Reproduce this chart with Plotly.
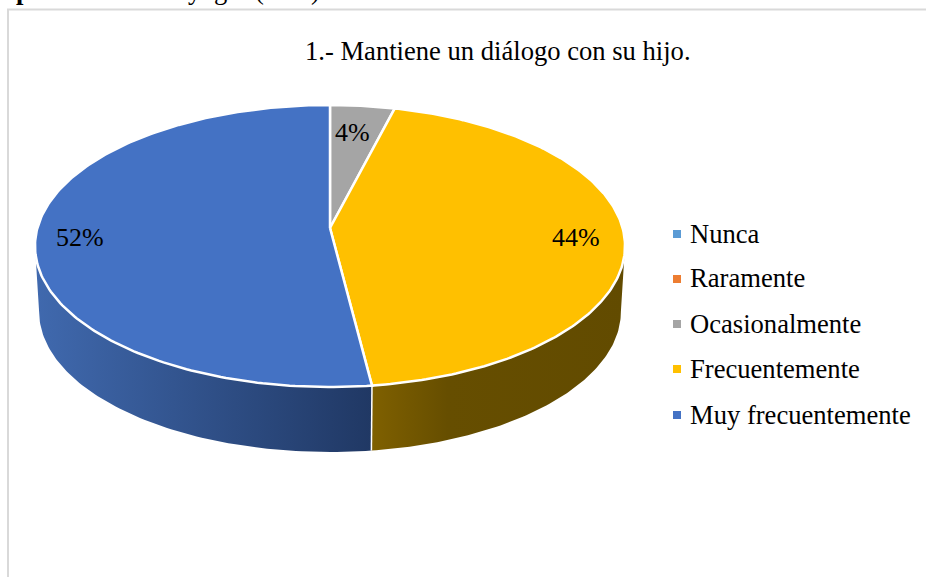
import numpy as np
import plotly.graph_objects as go

categories = ["Nunca", "Raramente", "Ocasionalmente", "Frecuentemente", "Muy frecuentemente"]
values = [0, 0, 4, 44, 52]
value_labels = ["4%", "44%", "52%"]
colors = ["#5B9BD5", "#ED7D31", "#A5A5A5", "#FFC000", "#4472C4"]
title_text = "1.- Mantiene un diálogo con su hijo."
cut_off_text = ["p", "y", "g", "(", ")"]

W, H = 926, 577
SERIF = "Liberation Serif"
BIG = 26.6

# perspective of the pie, the wedge tip is not the middle of the ellipse
CX, CY = 330, 228
A, B, K = 292.6, 138.7, 0.1277
CY_LOW, A_LOW, B_LOW = 293.8, 288.5, 138


def rim(deg, cy=CY, a=A, b=B):
    t = np.radians(deg)
    w = 1 + K * np.cos(t)
    return CX + a * np.sin(t) / w, cy - b * np.cos(t) / w


def low_rim(deg):
    return rim(deg, CY_LOW, A_LOW, B_LOW)


def label(text, x, y, size=BIG, bold=False):
    # paper coords so text cut by the page edge is not dropped
    return dict(text=f"<b>{text}</b>" if bold else text, x=x / W, y=1 - y / H, xref="paper", yref="paper",
                showarrow=False, xanchor="center", yanchor="middle",
                font=dict(family=SERIF, size=size, color="#000000"))


fig = go.Figure()

shares = np.array(values) / sum(values) * 360
ends = np.cumsum(shares)
starts = ends - shares

# side walls, only the front part can be seen
side_deg = np.degrees(np.arccos(-K))
wall_ranges = {3: (side_deg, starts[4]), 4: (starts[4], 360 - side_deg)}
wall_scales = {
    3: [[0, "#7F6000"], [0.3, "#664E00"], [1, "#624B00"]],
    4: [[0, "#203864"], [1, "#4069AE"]],
}
wall_grad = {3: (372, 625), 4: (372, 36)}
for i, (a0, a1) in wall_ranges.items():
    deg = np.linspace(a0, a1, 90)
    xt, yt = rim(deg)
    xb, yb = low_rim(deg)
    fig.add_trace(go.Scatter(x=np.r_[xt, xb[::-1]], y=np.r_[yt, yb[::-1]], mode="lines", fill="toself",
                             line=dict(width=0), hoverinfo="skip", showlegend=False,
                             fillgradient=dict(type="horizontal", colorscale=wall_scales[i],
                                               start=wall_grad[i][0], stop=wall_grad[i][1])))

# seam between the two walls
sx0, sy0 = rim(starts[4])
sx1, sy1 = low_rim(starts[4])
fig.add_trace(go.Scatter(x=[sx0, sx1], y=[sy0, sy1], mode="lines", line=dict(color="white", width=1.5),
                         hoverinfo="skip", showlegend=False))

# top face
for i in range(len(values)):
    if values[i] == 0:
        continue
    deg = np.linspace(starts[i], ends[i], 200)
    xs, ys = rim(deg)
    fig.add_trace(go.Scatter(x=np.r_[CX, xs, CX], y=np.r_[CY, ys, CY], mode="lines", fill="toself",
                             fillcolor=colors[i], line=dict(color="white", width=2.5),
                             hoverinfo="skip", showlegend=False))

# legend
legend_y = [234, 279, 324, 369, 415]
fig.add_trace(go.Scatter(x=[677] * len(categories), y=legend_y, mode="markers", showlegend=False,
                         marker=dict(symbol="square", size=8, color=colors), hoverinfo="skip"))

annotations = [label(title_text, 498, 50.5)]
for txt, (x, y) in zip(value_labels, [(352, 132), (576, 237), (79.5, 237)]):
    annotations.append(label(txt, x, y, size=26))
for txt, y in zip(categories, legend_y):
    a = label(txt, 688, y - 0.5)
    a["xanchor"] = "left"
    annotations.append(a)
for txt, x, bold in zip(cut_off_text, [23, 195, 220, 259, 315], [True, False, False, False, False]):
    annotations.append(label(txt, x, -10, bold=bold))

fig.update_layout(
    width=W, height=H, margin=dict(l=0, r=0, t=0, b=0),
    paper_bgcolor="white", plot_bgcolor="white", showlegend=False,
    xaxis=dict(range=[0, W], visible=False, fixedrange=True),
    yaxis=dict(range=[H, 0], visible=False, fixedrange=True),
    annotations=annotations,
    shapes=[
        dict(type="line", x0=8, x1=8, y0=9, y1=577, line=dict(color="#D9D9D9", width=2), layer="below"),
        dict(type="line", x0=7, x1=926, y0=9.5, y1=9.5, line=dict(color="#D9D9D9", width=2), layer="below"),
    ],
)

fig.write_html("out.html", config={"displayModeBar": False}, post_script="document.body.style.margin='0';")
